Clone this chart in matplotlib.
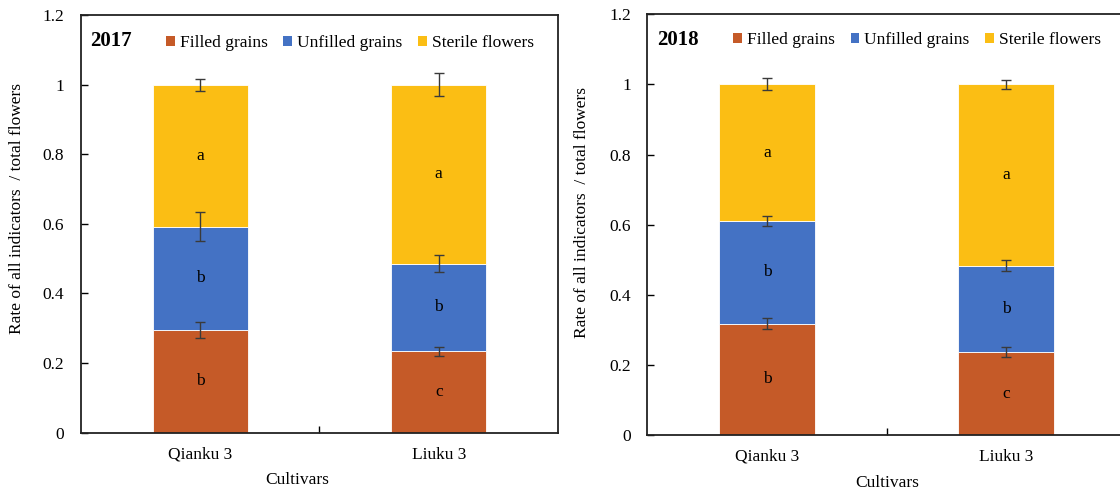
import numpy as np
import matplotlib.pyplot as plt
from matplotlib.patches import Patch
from matplotlib.ticker import FormatStrFormatter

plt.rcParams['font.family'] = ['Liberation Serif', 'DejaVu Serif']
plt.rcParams['font.size'] = 12.5

cultivars = ['Qianku 3', 'Liuku 3']
components = ['Filled grains', 'Unfilled grains', 'Sterile flowers']
colors = ['#C55A28', '#4472C4', '#FBBE14']

# 2017 shares of total flowers
filled_2017 = [0.295, 0.234]
unfilled_2017 = [0.297, 0.252]
sterile_2017 = [0.408, 0.514]
err_filled_2017 = [0.024, 0.013]
err_unfilled_2017 = [0.042, 0.024]
err_sterile_2017 = [0.017, 0.034]
letters_2017 = [['b', 'c'], ['b', 'b'], ['a', 'a']]

# 2018 shares of total flowers
filled_2018 = [0.318, 0.236]
unfilled_2018 = [0.292, 0.247]
sterile_2018 = [0.390, 0.517]
err_filled_2018 = [0.017, 0.014]
err_unfilled_2018 = [0.014, 0.016]
err_sterile_2018 = [0.017, 0.013]
letters_2018 = [['b', 'c'], ['b', 'b'], ['a', 'a']]


def draw_panel(ax, year, parts, errors, letters, ylabel_xy, xlabel_x, legend_xy):
    x = np.arange(len(cultivars))
    bottom = np.zeros(len(cultivars))
    for part, err, lets, color in zip(parts, errors, letters, colors):
        part = np.array(part)
        ax.bar(x, part, 0.4, bottom=bottom, color=color,
               edgecolor='white', linewidth=0.6, zorder=2)
        top = bottom + part
        ax.errorbar(x, top, yerr=err, fmt='none', ecolor='#3a3a3a',
                    elinewidth=1, capsize=3.5, capthick=1, zorder=3)
        for xi, yi, s in zip(x, bottom + part / 2, lets):
            ax.text(xi, yi, s, ha='center', va='center', fontsize=12.5, zorder=4)
        bottom = top

    ax.set_xlim(-0.5, 1.5)
    ax.set_ylim(0, 1.2)
    ax.set_yticks(np.arange(0, 1.21, 0.2))
    ax.yaxis.set_major_formatter(FormatStrFormatter('%g'))
    ax.set_xticks(x)
    ax.set_xticklabels(cultivars)
    ax.set_xticks([0.5], minor=True)
    ax.tick_params(axis='x', which='major', length=0, pad=10)
    ax.tick_params(axis='x', which='minor', direction='in', length=5, width=1)
    ax.tick_params(axis='y', direction='in', length=5, width=1, pad=12)
    for sp in ax.spines.values():
        sp.set_linewidth(1.3)
        sp.set_color('#222222')

    ax.set_ylabel('Rate of all indicators  / total flowers', fontsize=12.5)
    ax.yaxis.set_label_coords(*ylabel_xy)
    ax.set_xlabel('Cultivars', fontsize=12.5)
    ax.xaxis.set_label_coords(xlabel_x, -0.094)

    ax.text(0.02, 0.938, year, transform=ax.transAxes, fontsize=15,
            fontweight='bold', ha='left', va='center')

    handles = [Patch(facecolor=c, label=l) for c, l in zip(colors, components)]
    ax.legend(handles=handles, ncol=3, loc='center left',
              bbox_to_anchor=legend_xy, frameon=False, borderpad=0,
              borderaxespad=0, handlelength=0.5, handleheight=0.5,
              handletextpad=0.3, columnspacing=0.9, fontsize=12.5)


fig = plt.figure(figsize=(11.2, 4.92), dpi=100)
ax1 = fig.add_axes([0.0723, 0.1205, 0.4259, 0.849])
ax2 = fig.add_axes([0.5781, 0.1159, 0.4272, 0.855])

draw_panel(ax1, '2017',
           [filled_2017, unfilled_2017, sterile_2017],
           [err_filled_2017, err_unfilled_2017, err_sterile_2017],
           letters_2017, (-0.117, 0.536), 0.454, (0.178, 0.932))
draw_panel(ax2, '2018',
           [filled_2018, unfilled_2018, sterile_2018],
           [err_filled_2018, err_unfilled_2018, err_sterile_2018],
           letters_2018, (-0.120, 0.53), 0.5, (0.179, 0.939))

fig.savefig('out.png', dpi=100)
